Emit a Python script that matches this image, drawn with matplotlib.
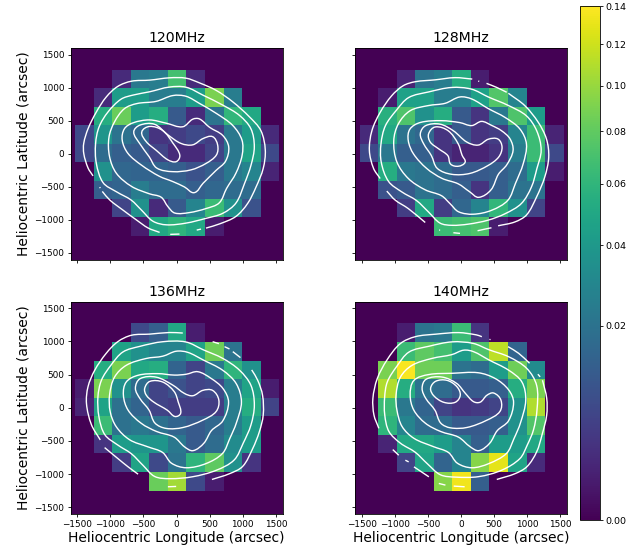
import numpy as np
import matplotlib
matplotlib.use('Agg')
import matplotlib.pyplot as plt
from matplotlib.colors import PowerNorm
from matplotlib.path import Path
from matplotlib.patches import PathPatch

freqs = ['120MHz', '128MHz', '136MHz', '140MHz']
x_edges = [-1530, -1250, -970, -690, -410, -130, 150, 430, 710, 990, 1270, 1550]
y_edges = [-1250, -964, -688, -407, -125, 150, 431, 708, 989, 1270]

# rows go from top to bottom
flux_120 = [
    [0, 0, .002, .0224, .0247, .0686, .002, 0, 0, 0, 0],
    [0, .002, .0424, .0424, .0247, .0247, .0424, .0896, .0247, 0, 0],
    [0, .0538, .083, .0424, .0538, .011, .002, .0202, .061, .0504, 0],
    [.0068, .0379, .0202, .0152, .0032, .0045, .0068, .0045, .0224, .0424, .002],
    [.0068, .0172, .0126, .011, .0056, .002, .002, .0056, .0224, .0471, .0068],
    [0, .035, .0152, .0143, .0143, .0126, .0088, .0126, .0224, .0284, .0014],
    [0, .0126, .0143, .0247, .0172, .0172, .0126, .0152, .0172, .0172, 0],
    [0, 0, .0056, .035, .002, .011, .0284, .0647, .035, .0088, 0],
    [0, 0, 0, .0009, .0504, .0592, .0504, .0009, 0, 0, 0],
]
flux_128 = [
    [0, 0, .0014, .0202, .0247, .0538, .0009, 0, 0, 0, 0],
    [0, .0009, .0455, .0455, .0247, .0247, .0455, .0746, .0284, 0, 0],
    [0, .0556, .0726, .035, .0538, .011, .0032, .0224, .0726, .0424, 0],
    [.002, .0504, .0202, .0152, .0032, .011, .0032, .0045, .0284, .0647, .0014],
    [.0068, .0224, .0126, .0126, .0032, .0014, .0014, .0032, .0247, .0647, .0068],
    [0, .0538, .0224, .0202, .0172, .011, .011, .0126, .0172, .0424, .0009],
    [0, .0088, .011, .0202, .0172, .0126, .0032, .0126, .0202, .0202, 0],
    [0, 0, .0045, .0504, .0045, .0152, .0284, .061, .035, .0056, 0],
    [0, 0, 0, 0, .0647, .0686, .0726, .0009, 0, 0, 0],
]
flux_136 = [
    [0, 0, 0, .0068, .0126, .0504, .0009, 0, 0, 0, 0],
    [0, 0, .0471, .035, .0284, .0284, .0471, .0852, .0202, 0, 0],
    [0, .0538, .0896, .0504, .0538, .0143, .0056, .0224, .0592, .035, 0],
    [.0009, .0896, .035, .0172, .0056, .0088, .0056, .0068, .0247, .0471, .0009],
    [.0014, .0471, .0192, .0143, .0056, .0045, .0045, .0045, .0247, .0538, .0056],
    [0, .0647, .0192, .0224, .0192, .0143, .011, .0152, .0247, .0424, 0],
    [0, .0032, .0424, .0379, .0379, .0224, .011, .0172, .0323, .0424, 0],
    [0, 0, .0045, .0471, .0068, .0202, .0592, .0788, .035, .0032, 0],
    [0, 0, 0, 0, .083, .1035, .0068, .0009, 0, 0, 0],
]
flux_140 = [
    [0, 0, .0009, .0202, .0224, .0647, .0032, 0, 0, 0, 0],
    [0, 0, .0647, .0788, .0686, .0424, .0726, .1134, .0143, 0, 0],
    [0, .0896, .137, .0852, .0852, .0202, .0172, .0424, .0852, .0323, 0],
    [0, .1084, .0538, .0202, .0172, .011, .011, .0126, .0538, .0896, 0],
    [0, .0647, .0224, .0143, .0056, .0032, .004, .0056, .035, .1084, 0],
    [0, .0592, .0284, .0172, .0172, .011, .011, .0126, .035, .0746, 0],
    [0, .0014, .0504, .0504, .0424, .0284, .0126, .0424, .0424, .0504, 0],
    [0, 0, .0056, .0471, .0143, .0284, .0941, .129, .0471, .002, 0],
    [0, 0, 0, 0, .0941, .1345, .0126, 0, 0, 0, 0],
]

# contour lines in arcsec, the outer one is broken into open arcs
arcs_120 = [
    [(-1260,-335),(-1335,-220),(-1400,5),(-1400,155),(-1335,380),(-1210,630),(-1060,860),(-885,1020),(-680,1100),(-405,1110),(-105,1150),(145,1145),(345,1070),(600,960),(850,785),(1100,555),(1275,355),(1340,55),(1310,-220),(1200,-500),(1075,-750),(900,-950),(650,-1060),(445,-1125)],
    [(370,-1140),(305,-1155)],
    [(45,-1215),(-95,-1220)],
    [(-255,-1190),(-430,-1125),(-605,-1000),(-810,-850),(-1010,-700),(-1120,-570)],
    [(-1150,-520),(-1160,-505)],
]
loops_120 = [
    [(-1220,155),(-1170,405),(-1035,630),(-835,830),(-660,885),(-405,935),(-105,1010),(145,1010),(395,885),(700,735),(950,580),(1125,380),(1175,105),(1125,-170),(1025,-445),(900,-750),(700,-900),(445,-975),(145,-1050),(-155,-1075),(-355,-1025),(-530,-850),(-680,-700),(-910,-570),(-1110,-445),(-1210,-145)],
    [(-1020,255),(-935,480),(-785,685),(-605,760),(-305,785),(-55,885),(145,870),(345,760),(600,610),(850,430),(990,205),(990,-20),(900,-295),(750,-520),(650,-750),(445,-825),(195,-890),(-30,-900),(-130,-800),(-230,-650),(-405,-610),(-680,-495),(-910,-295),(-1010,-45)],
    [(-820,205),(-785,380),(-660,465),(-405,515),(-155,465),(95,395),(245,530),(345,530),(495,395),(700,280),(790,105),(740,-120),(600,-245),(395,-445),(270,-600),(120,-495),(-55,-420),(-255,-345),(-530,-170),(-735,5)],
    [(-650,330),(-555,430),(-330,455),(-130,280),(70,155),(245,130),(395,230),(545,265),(620,130),(605,-20),(445,-145),(220,-245),(-55,-270),(-305,-220),(-405,-45),(-555,155)],
    [(-530,330),(-405,415),(-205,355),(-55,155),(55,-20),(-5,-120),(-130,-95),(-305,55),(-455,180)],
]
arcs_128 = [
    [(-1220,-375),(-1320,-225),(-1385,50),(-1345,350),(-1220,625),(-1045,880),(-870,1030),(-695,1090),(-390,1115),(-90,1155),(170,1130)],
    [(260,1100),(275,1095)],
    [(385,1065),(535,1005),(690,930)],
    [(715,915),(965,730),(1165,475),(1290,225),(1325,-50),(1265,-350),(1140,-650),(990,-930),(815,-1030),(560,-1090)],
    [(460,-1120),(410,-1130),(250,-1165)],
    [(-15,-1205),(-115,-1195)],
    [(-315,-1155),(-330,-1155)],
    [(-540,-1040),(-795,-830),(-995,-700),(-1120,-565)],
]
loops_128 = [
    [(-1205,150),(-1145,425),(-970,655),(-795,855),(-490,930),(-140,1005),(160,980),(410,855),(715,730),(990,575),(1140,350),(1215,50),(1140,-225),(1065,-500),(915,-755),(665,-905),(410,-1005),(110,-1065),(-140,-1080),(-315,-1055),(-490,-880),(-670,-705),(-895,-575),(-1095,-425),(-1205,-125)],
    [(-1015,200),(-945,450),(-770,655),(-490,730),(-240,755),(-15,865),(160,830),(410,680),(665,550),(890,375),(990,150),(940,-150),(815,-450),(715,-705),(460,-855),(185,-915),(-40,-880),(-165,-755),(-290,-630),(-540,-550),(-795,-375),(-970,-125)],
    [(-795,200),(-770,375),(-615,475),(-290,500),(-15,475),(160,415),(310,500),(460,425),(610,350),(740,225),(790,50),(690,-175),(560,-300),(460,-550),(260,-665),(135,-575),(-40,-450),(-290,-375),(-515,-225),(-720,0)],
    [(-615,300),(-540,425),(-315,450),(-115,350),(85,175),(260,125),(410,225),(560,225),(620,100),(570,-50),(410,-175),(135,-300),(-140,-310),(-365,-225),(-440,-25),(-565,150)],
    [(-490,300),(-390,410),(-190,350),(-40,150),(10,-25),(70,-125),(-40,-190),(-165,-160),(-190,-25),(-340,75),(-465,175)],
]
arcs_136 = [
    [(-1150,-485),(-1285,-260),(-1360,65),(-1335,315),(-1235,565),(-1060,820),(-885,995),(-680,1095),(-405,1105),(-105,1135),(95,1125)],
    [(545,995),(640,965)],
    [(725,920),(800,885)],
    [(850,845),(965,755)],
    [(1135,570),(1225,415),(1300,190),(1310,-110),(1250,-360),(1150,-610),(1000,-890),(800,-990),(535,-1080)],
    [(-5,-1185),(-130,-1190)],
    [(-580,-1000),(-730,-890),(-885,-765),(-1085,-600)],
]
loops_136 = [
    [(-1185,165),(-1135,415),(-985,640),(-810,845),(-555,920),(-205,995),(145,995),(395,870),(700,745),(950,565),(1125,340),(1175,40),(1125,-260),(1000,-535),(875,-790),(600,-940),(245,-1040),(-105,-1065),(-330,-1040),(-505,-865),(-680,-690),(-885,-560),(-1085,-410),(-1170,-135)],
    [(-1010,190),(-935,465),(-760,640),(-455,745),(-205,770),(-5,855),(170,835),(395,720),(700,565),(900,365),(985,90),(900,-235),(800,-460),(700,-690),(445,-840),(145,-905),(-80,-840),(-205,-665),(-430,-590),(-710,-485),(-910,-285),(-1000,-60)],
    [(-800,190),(-760,390),(-580,490),(-280,515),(-30,490),(145,500),(320,550),(520,440),(700,290),(790,90),(700,-210),(520,-335),(420,-535),(245,-650),(120,-590),(-30,-435),(-305,-360),(-530,-235),(-735,-35)],
    [(-620,290),(-555,440),(-305,465),(-55,340),(120,215),(245,175),(395,265),(545,265),(640,115),(600,-60),(395,-185),(95,-300),(-155,-310),(-330,-235),(-405,-35),(-555,140)],
    [(-480,290),(-405,400),(-205,390),(-30,240),(20,90),(70,-85),(-30,-135),(-130,-35),(-355,90),(-455,190)],
]
arcs_140 = [
    [(-1240,-310),(-1315,-110),(-1330,140),(-1265,440),(-1115,720),(-915,970),(-690,1070),(-385,1105),(-35,1135),(240,1095),(315,1070)],
    [(430,1030),(445,1025)],
    [(710,920),(870,820),(1035,670)],
    [(1160,505),(1195,465)],
    [(1230,415),(1295,140),(1295,-110),(1220,-410),(1145,-660),(995,-890),(820,-990),(540,-1080)],
    [(55,-1190),(-110,-1180)],
    [(-235,-1165),(-335,-1140)],
    [(-485,-1040),(-710,-890)],
    [(-790,-815),(-840,-790)],
    [(-940,-715),(-1030,-630)],
]
loops_140 = [
    [(-1150,165),(-1115,390),(-965,620),(-790,845),(-485,920),(-135,995),(190,970),(415,870),(720,770),(995,590),(1145,340),(1145,-35),(1095,-335),(995,-560),(895,-765),(615,-940),(265,-1040),(-85,-1040),(-310,-1015),(-510,-840),(-690,-665),(-915,-535),(-1090,-360),(-1150,-110)],
    [(-980,190),(-915,465),(-740,640),(-435,745),(-135,795),(40,870),(190,845),(415,720),(720,565),(920,390),(980,115),(895,-235),(795,-460),(695,-690),(415,-840),(165,-905),(-60,-840),(-185,-665),(-410,-590),(-715,-460),(-890,-285),(-965,-35)],
    [(-765,190),(-715,415),(-485,500),(-135,515),(265,530),(515,440),(720,265),(795,90),(720,-210),(540,-335),(440,-535),(265,-650),(140,-590),(-35,-435),(-310,-360),(-535,-235),(-715,-35)],
    [(-585,290),(-535,430),(-285,465),(-60,365),(65,215),(190,90),(290,80),(390,190),(490,225),(605,115),(590,-60),(390,-185),(90,-300),(-160,-300),(-310,-235),(-385,-35),(-535,140)],
    [(-460,290),(-385,400),(-210,415),(-60,315),(-10,190),(-85,80),(-260,80),(-410,180)],
]

W, H = 639, 545
norm = PowerNorm(gamma=0.5, vmin=0, vmax=0.14)


def relax(p, closed):
    # takes the jitter of hand reading out of a line without shrinking it
    if len(p) < 5:
        return p
    for k in [0.3, -0.3]:
        avg = (np.roll(p, 1, axis=0) + np.roll(p, -1, axis=0)) / 2
        new = p + k * (avg - p)
        if not closed:
            new[0], new[-1] = p[0], p[-1]
        p = new
    return p


def curve(ax, pts, closed):
    # spline through the read points, written as bezier segments
    p = relax(np.array(pts, float), closed)
    n = len(p)
    if closed:
        get = lambda i: p[i % n]
        last = n
    else:
        get = lambda i: p[min(max(i, 0), n - 1)]
        last = n - 1

    def tangent(i):
        t = get(i + 1) - get(i - 1)
        return t / max(np.hypot(*t), 1e-6)

    verts = [p[0]]
    codes = [Path.MOVETO]
    for i in range(last):
        d = np.hypot(*(get(i + 1) - get(i))) / 3
        verts += [get(i) + tangent(i) * d, get(i + 1) - tangent(i + 1) * d, get(i + 1)]
        codes += [Path.CURVE4] * 3
    ax.add_patch(PathPatch(Path(verts, codes), fc='none', ec='white', lw=1.0))


def make_axes(left, top, right, bottom):
    return fig.add_axes([left / W, 1 - bottom / H, (right - left) / W, (bottom - top) / H])


fig = plt.figure(figsize=(W / 100, H / 100), dpi=100)
boxes = [(70.5, 48, 282.5, 259.5), (355, 48, 567, 259.5),
         (70.5, 301.5, 282.5, 514), (355, 301.5, 567, 514)]
fluxes = [flux_120, flux_128, flux_136, flux_140]
arcs = [arcs_120, arcs_128, arcs_136, arcs_140]
loops = [loops_120, loops_128, loops_136, loops_140]

for i in range(4):
    ax = make_axes(*boxes[i])
    ax.set_facecolor(plt.cm.viridis(0))
    mesh = ax.pcolormesh(x_edges, y_edges, np.array(fluxes[i])[::-1], cmap='viridis', norm=norm)
    for a in arcs[i]:
        curve(ax, a, False)
    for l in loops[i]:
        curve(ax, l, True)
    ax.set_xlim(-1600, 1600)
    ax.set_ylim(-1600, 1600)
    ax.set_xticks([-1500, -1000, -500, 0, 500, 1000, 1500])
    ax.set_yticks([-1500, -1000, -500, 0, 500, 1000, 1500])
    ax.tick_params(labelsize=6.4, length=2.5, width=0.6, pad=2)
    for s in ax.spines.values():
        s.set_linewidth(0.6)
    ax.set_title(freqs[i], fontsize=10.2, pad=4)
    if i < 2:
        ax.set_xticklabels([])
    else:
        ax.set_xlabel('Heliocentric Longitude (arcsec)', fontsize=10, labelpad=1.5)
    if i % 2 == 1:
        ax.set_yticklabels([])
    else:
        ax.set_ylabel('Heliocentric Latitude (arcsec)', fontsize=10, labelpad=3)

cax = make_axes(579.5, 6, 599.5, 520)
cb = fig.colorbar(mesh, cax=cax, ticks=[0, .02, .04, .06, .08, .10, .12, .14])
cb.ax.set_yticklabels(['0.00', '0.02', '0.04', '0.06', '0.08', '0.10', '0.12', '0.14'])
cb.ax.tick_params(labelsize=6.8, length=2.5, width=0.6, pad=2)
cb.outline.set_linewidth(0.6)

fig.savefig('out.png', dpi=100)
